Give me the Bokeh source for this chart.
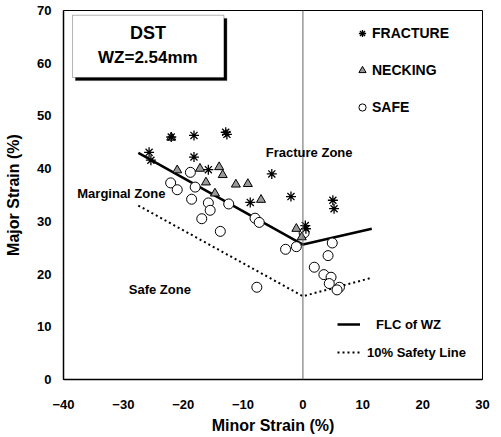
from bokeh.plotting import figure
from bokeh.models import FixedTicker, Span, Label, Legend, LegendItem, BoxAnnotation, Range1d
from bokeh.embed import file_html
from bokeh.resources import INLINE

# ---- data ----
fracture_x = [-25.7, -25.4, -22.0, -18.2, -12.7, -12.9, -18.2, -15.8, -5.2, -8.8, -2.0, 0.4, 0.5, 5.0, 5.2]
fracture_y = [43.1, 41.6, 46.0, 46.3, 46.5, 46.9, 42.2, 39.8, 39.0, 33.6, 34.7, 29.2, 28.6, 34.0, 32.4]

necking_x = [-22.0, -21.0, -17.2, -14.0, -13.4, -16.2, -14.7, -11.2, -9.2, -7.0, -1.1, -0.2]
necking_y = [45.9, 39.7, 40.0, 40.3, 38.8, 37.4, 35.3, 37.0, 37.1, 34.1, 28.6, 27.0]

safe_x = [-22.1, -21.0, -18.8, -18.0, -18.6, -15.8, -15.5, -16.9, -13.8, -12.4, -8.0, -7.3,
          -2.9, -1.1, -7.7, 0.2, 4.9, 4.2, 1.9, 3.5, 4.7, 4.4, 6.1, 5.7]
safe_y = [37.3, 36.0, 39.3, 36.5, 34.2, 33.5, 32.1, 30.5, 28.1, 33.3, 30.6, 29.8,
          24.7, 25.2, 17.5, 27.8, 25.9, 23.5, 21.3, 19.9, 19.4, 18.2, 17.5, 17.0]

flc_x = [-27.5, 0.0, 11.5]
flc_y = [43.0, 25.6, 28.6]

safety_x = [-27.5, 0.0, 11.5]
safety_y = [33.0, 15.8, 19.3]

x_ticks = [-40, -30, -20, -10, 0, 10, 20, 30]
y_ticks = [0, 10, 20, 30, 40, 50, 60, 70]

FONT = "Liberation Sans"

p = figure(width=501, height=437, x_range=Range1d(-40, 30), y_range=Range1d(0, 70),
           output_backend="svg", toolbar_location=None,
           min_border_left=63, min_border_right=19, min_border_top=10, min_border_bottom=58)

p.background_fill_color = "white"
p.border_fill_color = "white"
p.outline_line_color = "black"
p.outline_line_width = 1
p.xgrid.visible = False
p.ygrid.visible = False

for ax in (p.xaxis[0], p.yaxis[0]):
    ax.axis_line_color = "black"
    ax.axis_line_width = 1.5
    ax.major_tick_line_color = None
    ax.minor_tick_line_color = None
    ax.major_label_text_font = FONT
    ax.major_label_text_font_style = "bold"
    ax.major_label_text_font_size = "13px"
    ax.major_label_text_color = "black"
    ax.axis_label_text_font = FONT
    ax.axis_label_text_font_style = "bold"
    ax.axis_label_text_font_size = "16px"
    ax.axis_label_text_color = "black"

p.xaxis.ticker = FixedTicker(ticks=x_ticks)
p.yaxis.ticker = FixedTicker(ticks=y_ticks)
p.xaxis.axis_label = "Minor Strain (%)"
p.yaxis.axis_label = "Major Strain (%)"
p.xaxis.major_label_standoff = 14
p.yaxis.major_label_standoff = 6
p.xaxis.axis_label_standoff = 5
p.yaxis.axis_label_standoff = 12

# vertical line at zero
p.add_layout(Span(location=0, dimension="height", line_color="#666666", line_width=1))

# curves
flc = p.line(flc_x, flc_y, line_color="black", line_width=2.5)
saf = p.line(safety_x, safety_y, line_color="black", line_width=2, line_dash="2 3")

# points
sr = p.scatter(safe_x, safe_y, marker="circle", size=10, fill_color="white",
               line_color="black", line_width=1)
nr = p.scatter(necking_x, necking_y, marker="triangle", size=9, fill_color="#999999",
               line_color="black", line_width=1)
fr = p.scatter(fracture_x, fracture_y, marker="asterisk", size=10,
               line_color="black", line_width=1.3)

# title box with shadow
p.add_layout(BoxAnnotation(left=-38.0, right=-12.7, top=68.5, bottom=56.7,
                           fill_color="black", fill_alpha=1, line_color="black"))
p.add_layout(BoxAnnotation(left=-38.5, right=-13.2, top=69.1, bottom=57.3,
                           fill_color="white", fill_alpha=1, line_color="black", line_width=1))

def lab(x, y, t, size="14px", align="left"):
    p.add_layout(Label(x=x, y=y, text=t, text_font=FONT, text_font_style="bold",
                       text_font_size=size, text_align=align, text_baseline="middle",
                       text_color="black"))

lab(-25.9, 65.8, "DST", "18px", "center")
lab(-25.9, 61.1, "WZ=2.54mm", "17px", "center")
lab(-6.2, 43.1, "Fracture Zone", "13px")
lab(-37.7, 35.3, "Marginal Zone", "13px")
lab(-29.1, 17.1, "Safe Zone", "13px")

def mk_legend(items, loc, gw, gh, spacing, standoff, fs="13px"):
    lg = Legend(items=items, location=loc, orientation="vertical",
                glyph_width=gw, glyph_height=gh, label_height=gh, spacing=spacing,
                label_standoff=standoff, padding=0, margin=0,
                border_line_color=None, background_fill_alpha=0,
                label_text_font=FONT, label_text_font_style="bold",
                label_text_font_size=fs, label_text_color="black")
    p.add_layout(lg)

mk_legend([LegendItem(label="FRACTURE", renderers=[fr]),
           LegendItem(label="NECKING", renderers=[nr]),
           LegendItem(label="SAFE", renderers=[sr])], (290, 262), 18, 20, 17, 1, "14px")
mk_legend([LegendItem(label="FLC of WZ", renderers=[flc])], (274, 47), 23, 16, 0, 16)
mk_legend([LegendItem(label="10% Safety Line", renderers=[saf])], (274, 19), 23, 16, 0, 7)

open("out.html", "w").write(file_html(p, INLINE))
